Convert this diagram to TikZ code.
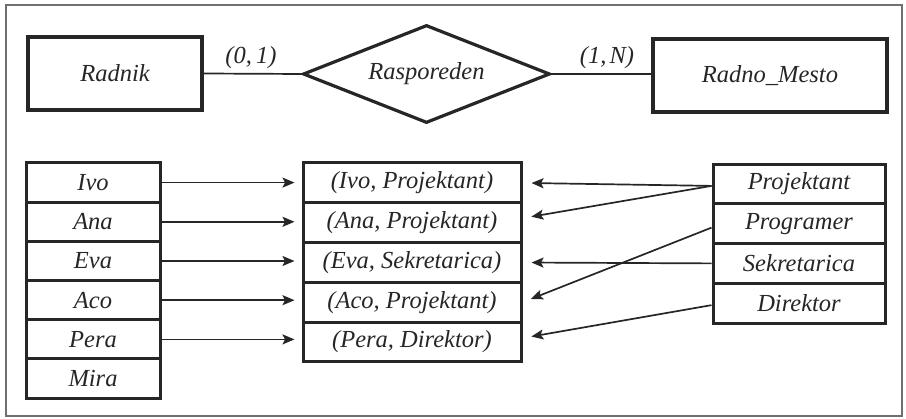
\documentclass[tikz,border=0pt]{standalone}
\usepackage{fontspec}
\setmainfont{Liberation Serif}[ItalicFont={Liberation Serif Italic}]
\usetikzlibrary{shapes.geometric,arrows.meta,calc}
\definecolor{ink}{HTML}{262626}
\definecolor{framec}{HTML}{707070}
\tikzset{
  txt/.style={font=\fontsize{24.5}{28}\selectfont\itshape, text=ink},
  entbox/.style={txt, draw=ink, line width=3.2pt, fill=white, minimum width=#1, minimum height=73pt, inner sep=0pt},
  relshape/.style={txt, diamond, draw=ink, line width=3.2pt, fill=white, aspect=2.5, inner sep=0pt, minimum width=247pt, minimum height=98pt},
  lcell/.style={txt, draw=ink, line width=3pt, minimum width=134pt, minimum height=39.2pt, inner sep=0pt},
  mcell/.style={txt, draw=ink, line width=3pt, minimum width=218pt, minimum height=39.8pt, inner sep=0pt},
  rcell/.style={txt, draw=ink, line width=3pt, minimum width=172pt, minimum height=39.75pt, inner sep=0pt},
  conn/.style={draw=ink, line width=1.7pt},
  arr/.style={conn, -{Stealth[length=12pt,width=10pt,inset=2.5pt]}},
  card/.style={txt, inner sep=0pt}
}
\begin{document}
\begin{tikzpicture}[x=1pt,y=-1pt]
\useasboundingbox (0,0) rectangle (906,419);
\draw[framec, line width=1.8pt] (6,5) rectangle (902,416);

% top ER part
\node[entbox=174pt] (radnik) at (115,73.5) {Radnik};
\node[relshape] (rasp) at (426.5,74) {Rasporeden};
\node[entbox=234pt] (mesto) at (770,75.5) {Radno\_Mesto};
\draw[conn] (radnik.east) -- (rasp.west);
\draw[conn] (rasp.east) -- (mesto.west |- rasp.east);
\node[card] (c1) at (251,58) {(0,\,1)};
\node[card] (c2) at (607,58) {(1,\hspace{3pt}N)};

% left column
\foreach \n/\t [count=\i from 0] in {l1/Ivo,l2/Ana,l3/Eva,l4/Aco,l5/Pera,l6/Mira}{
  \node[lcell] (\n) at (93,{182.6+39.2*\i}) {\t};
}
% middle column
\foreach \n/\t [count=\i from 0] in {m1/{(Ivo, Projektant)},m2/{(Ana, Projektant)},m3/{(Eva, Sekretarica)},m4/{(Aco, Projektant)},m5/{(Pera, Direktor)}}{
  \node[mcell] (\n) at (412,{182.9+39.8*\i}) {\t};
}
% right column
\foreach \n/\t [count=\i from 0] in {r1/Projektant,r2/Programer,r3/Sekretarica,r4/Direktor}{
  \node[rcell] (\n) at (799,{183.9+39.75*\i}) {\t};
}

% left arrows
\foreach \a/\b in {l1/m1,l2/m2,l3/m3,l4/m4,l5/m5}{
  \draw[arr, shorten >=7pt] (\a.east) -- (\a.east -| \b.west);
}

% right arrows
\draw[arr, shorten >=9pt] ($(r1.west)+(0,2)$) -- (m1.east);
\draw[arr, shorten >=9pt] ($(r1.west)+(0,2)$) -- ($(m2.east)+(0,-4.5)$);
\draw[arr, shorten >=9pt] ($(r2.west)+(0,4)$) -- (m4.east);
\draw[arr, shorten >=9pt] (r3.west) -- (m3.east);
\draw[arr, shorten >=9pt] ($(r4.west)+(0,2)$) -- ($(m5.east)+(0,-4)$);
\end{tikzpicture}
\end{document}
